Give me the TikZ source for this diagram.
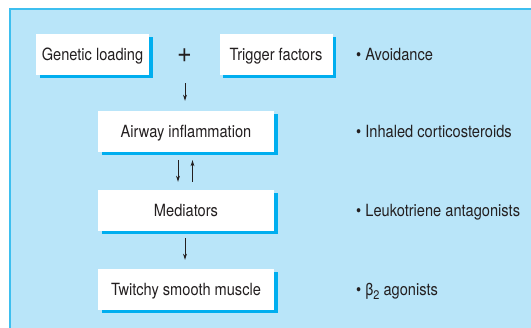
\documentclass[tikz,border=0pt]{standalone}
\usepackage{fontspec}
\setmainfont[FakeStretch=0.87]{TeX Gyre Heros}
\usetikzlibrary{arrows.meta,shadows}
\definecolor{bgblue}{HTML}{B9E5F9}
\definecolor{edgeblue}{HTML}{3DBFEF}
\definecolor{shadeblue}{HTML}{00AEEF}
\definecolor{ink}{HTML}{231F20}
\tikzset{
  box/.style={fill=white, draw=none, inner sep=0pt, text=ink,
    text height=11.8pt, text depth=0pt,
    drop shadow={shadow xshift=3.5pt, shadow yshift=-3.5pt, fill=shadeblue, opacity=1},
    font=\fontsize{16.8}{18}\selectfont},
  smallbox/.style={box, minimum width=113pt, minimum height=41pt},
  bigbox/.style={box, minimum width=176pt, minimum height=41pt},
  arr/.style={draw=ink, line width=0.9pt, -{Stealth[length=6pt,width=3.8pt]}},
  bullettext/.style={anchor=west, inner sep=0pt, text=ink, text height=11.8pt, text depth=0pt,
    font=\fontsize{16.8}{18}\selectfont},
}
\begin{document}
\begin{tikzpicture}[x=1pt,y=-1pt]
\useasboundingbox (0,0) rectangle (531,328);
\fill[bgblue] (10,9) rectangle (531,328);
\draw[edgeblue, line width=1.6pt] (10,328) -- (10,9) -- (531,9);

\node[smallbox] (gen) at (92.5,54.5) {Genetic loading};
\node[smallbox] (trig) at (276,54.5) {Trigger factors};
\node[text=ink, inner sep=0pt, font=\fontsize{29}{29}\selectfont] (plus) at (184.5,55.5) {+};
\node[bigbox] (air) at (186,131.5) {Airway inflammation};
\node[bigbox] (med) at (186,210.5) {Mediators};
\node[bigbox] (tw) at (186,289.5) {Twitchy smooth muscle};

\draw[arr] ([xshift=0.5pt,yshift=-28pt]plus.center) -- ([xshift=-1pt,yshift=10pt]air.north);
\draw[arr] ([xshift=-8pt,yshift=-8pt]air.south) -- ([xshift=-8pt,yshift=8pt]med.north);
\draw[arr] ([xshift=6.5pt,yshift=8pt]med.north) -- ([xshift=6.5pt,yshift=-8pt]air.south);
\draw[arr] ([xshift=-1pt,yshift=-7pt]med.south) -- ([xshift=-1pt,yshift=9pt]tw.north);

\node[bullettext] (b1) at (356,55) {\textbullet\ Avoidance};
\node[bullettext] (b2) at (356,132) {\textbullet\ Inhaled corticosteroids};
\node[bullettext] (b3) at (356,210.5) {\textbullet\ Leukotriene antagonists};
\node[bullettext] (b4) at (356,290) {\textbullet\ β\raisebox{-3.5pt}{\fontsize{12.5}{12.5}\selectfont 2} agonists};
\end{tikzpicture}
\end{document}
